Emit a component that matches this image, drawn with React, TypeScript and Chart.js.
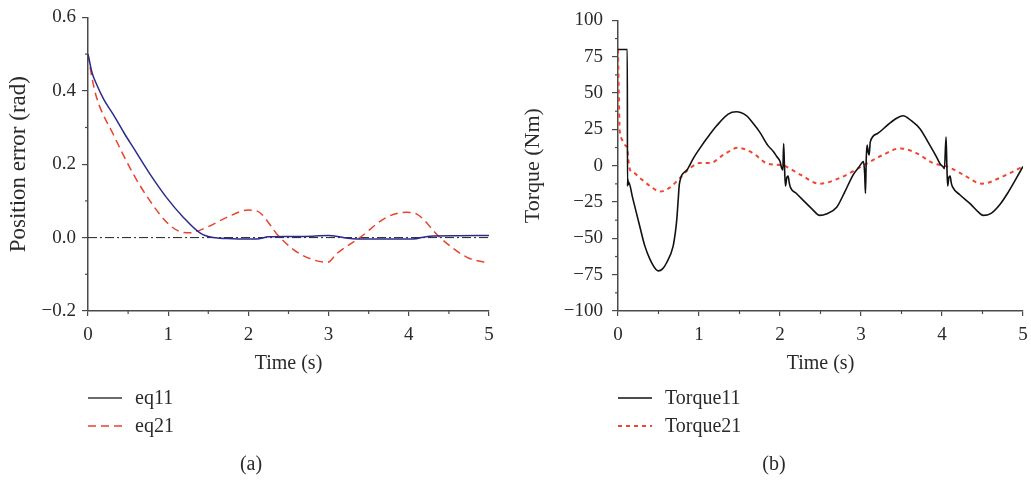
import React, { useEffect, useRef } from 'react';
import { Chart, registerables } from 'chart.js';

Chart.register(...registerables);

const SERIF = '"Liberation Serif", "Times New Roman", serif';
const TEXT = '#2a2a2a';
const AXIS = '#4a4a4a';

// ---------- Panel (a): position error ----------
const timeTicks = [0, 1, 2, 3, 4, 5];
const eq11T = [0, 0.05, 0.108, 0.2, 0.316, 0.45, 0.565, 0.773, 0.98, 1.19, 1.4, 1.56, 1.8, 2.0, 2.1, 2.25, 2.5, 2.8, 3.0, 3.05, 3.3, 3.6, 4.05, 4.26, 4.6, 5.0];
const eq11V = [0.5, 0.45, 0.417, 0.375, 0.335, 0.285, 0.245, 0.173, 0.109, 0.055, 0.012, 0.0, -0.003, -0.004, -0.004, 0.002, 0.003, 0.004, 0.006, 0.005, -0.003, -0.004, -0.004, 0.004, 0.005, 0.006];
const eq21T = [0, 0.05, 0.108, 0.316, 0.565, 0.773, 0.98, 1.15, 1.27, 1.48, 1.73, 2.0, 2.1, 2.39, 2.64, 2.99, 3.1, 3.39, 3.72, 3.97, 4.1, 4.39, 4.72, 5.0];
const eq21V = [0.5, 0.435, 0.381, 0.281, 0.173, 0.1, 0.042, 0.016, 0.013, 0.028, 0.055, 0.075, 0.073, 0.001, -0.044, -0.067, -0.044, 0.0, 0.055, 0.069, 0.064, 0.0, -0.053, -0.07];
const zeroT = [0, 5];
const zeroV = [0, 0];

// ---------- Panel (b): torque ----------
const tq11T = [0, 0.115, 0.117, 0.122, 0.127, 0.13, 0.18, 0.27, 0.33, 0.395, 0.45, 0.5, 0.55, 0.6, 0.68, 0.71, 0.725, 0.745, 0.757, 0.85, 0.93, 1.01, 1.1, 1.22, 1.36, 1.46, 1.585, 1.67, 1.75, 1.85, 1.92, 1.96, 2.0, 2.02, 2.035, 2.045, 2.055, 2.067, 2.085, 2.1, 2.115, 2.13, 2.2, 2.29, 2.4, 2.49, 2.58, 2.7, 2.8, 2.905, 2.96, 3.01, 3.03, 3.045, 3.055, 3.065, 3.075, 3.09, 3.1, 3.115, 3.2, 3.32, 3.42, 3.52, 3.62, 3.73, 3.83, 3.93, 3.98, 4.01, 4.03, 4.05, 4.06, 4.07, 4.085, 4.1, 4.115, 4.13, 4.22, 4.35, 4.45, 4.51, 4.6, 4.72, 4.82, 4.92, 5.0];
const tq11V = [80, 80, -14, -9, -13, -11, -22, -42, -55, -64.5, -70, -72.4, -71, -66.8, -55.5, -45, -37.5, -22, -12.8, -3, 5.1, 11.9, 19, 27.6, 35.5, 37.1, 34.4, 29, 23.1, 14, 9.6, 6.3, 3, -1.6, -3, 15.2, 0, -14, -8, -7.2, -12, -15.1, -19, -24, -30, -34.2, -33, -28.6, -18, -6.1, -2, 1.8, 2.9, -5, -19.1, 5, 14.2, 9, 7.4, 16.4, 22, 27.6, 32, 34.4, 31, 25.3, 16, 6.3, 1, -0.5, -2, 19.8, 0, -14, -8, -7.2, -12, -14.6, -20, -26.3, -32, -34.2, -33, -26.3, -18, -8.4, -0.5];
const tq21T = [0, 0.01, 0.02, 0.04, 0.065, 0.09, 0.115, 0.13, 0.148, 0.2, 0.27, 0.395, 0.52, 0.64, 0.765, 0.89, 1.01, 1.136, 1.3, 1.48, 1.67, 1.83, 2.0, 2.04, 2.25, 2.49, 2.74, 3.03, 3.27, 3.48, 3.69, 3.89, 4.06, 4.26, 4.49, 4.76, 5.0];
const tq21V = [80, 50, 25, 19, 16.4, 14, 11.9, 3, -2.7, -5, -8.4, -14, -17.8, -15.1, -8.4, -1.6, 1.8, 1.8, 7.4, 12.3, 8.5, 1.8, 0.5, 0.2, -6.1, -12.4, -8.4, 0.2, 7.4, 11.9, 8.5, 1.8, -0.5, -6.1, -12.4, -7.2, -0.5];

const posTicks = [-0.2, 0, 0.2, 0.4, 0.6];
const torqueTicks = [-100, -75, -50, -25, 0, 25, 50, 75, 100];

const pts = (t: number[], v: number[]) => t.map((x, i) => ({ x, y: v[i] }));
const minus = (s: string) => s.replace('-', '\u2212');

const minorTicks = {
  id: 'minorTicks',
  afterDraw(chart: any) {
    const ctx = chart.ctx;
    ctx.save();
    ctx.strokeStyle = AXIS;
    ctx.lineWidth = 1.2;
    ['x', 'y'].forEach((id) => {
      const s = chart.scales[id];
      const vals = s.ticks.map((k: any) => k.value);
      for (let i = 0; i < vals.length - 1; i++) {
        const p = s.getPixelForValue((vals[i] + vals[i + 1]) / 2);
        ctx.beginPath();
        if (id === 'x') {
          ctx.moveTo(p, s.top);
          ctx.lineTo(p, s.top + 3);
        } else {
          ctx.moveTo(s.right, p);
          ctx.lineTo(s.right - 3, p);
        }
        ctx.stroke();
      }
    });
    ctx.restore();
  },
};

const panelLegend = {
  id: 'panelLegend',
  afterDraw(chart: any, _a: any, opts: any) {
    const { ctx, chartArea } = chart;
    const items = chart.data.datasets.filter((d: any) => d.label);
    items.forEach((d: any, i: number) => {
      const y = opts.rowY[i];
      ctx.save();
      ctx.strokeStyle = d.legendColor || d.borderColor;
      ctx.lineWidth = d.borderWidth;
      ctx.setLineDash(d.borderDash || []);
      ctx.beginPath();
      ctx.moveTo(chartArea.left, y);
      ctx.lineTo(chartArea.left + 34, y);
      ctx.stroke();
      ctx.setLineDash([]);
      ctx.fillStyle = TEXT;
      ctx.font = `20px ${SERIF}`;
      ctx.textBaseline = 'middle';
      ctx.textAlign = 'left';
      ctx.fillText(d.label, chartArea.left + 47, y + 1);
      ctx.restore();
    });
    ctx.save();
    ctx.fillStyle = TEXT;
    ctx.font = `20px ${SERIF}`;
    ctx.textBaseline = 'middle';
    ctx.textAlign = 'center';
    ctx.fillText(opts.caption, opts.captionX, opts.captionY);
    ctx.restore();
  },
};

function makeConfig(p: any): any {
  return {
    type: 'line',
    data: { datasets: p.datasets },
    plugins: [minorTicks, panelLegend],
    options: {
      responsive: false,
      animation: false,
      events: [],
      layout: { padding: { top: 16, right: p.padRight, bottom: 107, left: 0 } },
      elements: { point: { radius: 0 } },
      plugins: {
        legend: { display: false },
        tooltip: { enabled: false },
        panelLegend: { rowY: [398, 426], caption: p.caption, captionX: p.captionX, captionY: 465 },
      },
      scales: {
        x: {
          type: 'linear',
          min: 0,
          max: 5,
          afterFit: (s: any) => { s.height = 65; s.paddingRight = 0; s.paddingLeft = 0; },
          afterBuildTicks: (s: any) => { s.ticks = timeTicks.map((v) => ({ value: v })); },
          ticks: { color: TEXT, font: { family: SERIF, size: 19 }, padding: 8, maxRotation: 0 },
          grid: { drawOnChartArea: false, drawTicks: true, tickLength: 5, color: AXIS, lineWidth: 1.2 },
          border: { display: true, color: AXIS, width: 1.5 },
          title: { display: true, text: 'Time (s)', color: TEXT, font: { family: SERIF, size: 20 }, padding: { top: 0, bottom: 0 } },
        },
        y: {
          type: 'linear',
          min: p.yMin,
          max: p.yMax,
          afterFit: (s: any) => { s.width = p.yWidth; },
          afterBuildTicks: (s: any) => { s.ticks = p.yTicks.map((v: number) => ({ value: v })); },
          ticks: { color: TEXT, font: { family: SERIF, size: 19 }, padding: p.yPad, callback: p.yFmt },
          grid: { drawOnChartArea: false, drawTicks: true, tickLength: 6, color: AXIS, lineWidth: 1.2 },
          border: { display: true, color: AXIS, width: 1.5 },
          title: { display: true, text: p.yTitle, color: TEXT, font: { family: SERIF, size: p.yTitleSize }, padding: { top: p.yTitlePad, bottom: 0 } },
        },
      },
    },
  };
}

const panelA = {
  datasets: [
    { label: 'eq11', order: 0, data: pts(eq11T, eq11V), borderColor: '#2b2b8c', legendColor: '#3a3a3a', borderWidth: 1.5, cubicInterpolationMode: 'monotone' },
    { label: 'eq21', order: 1, data: pts(eq21T, eq21V), borderColor: '#e8432e', borderWidth: 1.5, borderDash: [8, 5], cubicInterpolationMode: 'monotone' },
    { label: '', order: 2, data: pts(zeroT, zeroV), borderColor: '#222', borderWidth: 1, borderDash: [9, 3, 2, 3], tension: 0 },
  ],
  padRight: 26,
  yMin: -0.2,
  yMax: 0.6,
  yTicks: posTicks,
  yWidth: 88,
  yPad: 6,
  yFmt: (v: number) => minus((Math.abs(v) < 1e-9 ? 0 : v).toFixed(1)),
  yTitle: 'Position error (rad)',
  yTitleSize: 23,
  yTitlePad: 5,
  caption: '(a)',
  captionX: 251,
};

const panelB = {
  datasets: [
    { label: 'Torque11', order: 0, data: pts(tq11T, tq11V), borderColor: '#111', borderWidth: 1.6, cubicInterpolationMode: 'monotone' },
    { label: 'Torque21', order: 1, data: pts(tq21T, tq21V), borderColor: '#f0462f', borderWidth: 2, borderDash: [4, 4], cubicInterpolationMode: 'monotone' },
  ],
  padRight: 8,
  yMin: -100,
  yMax: 100,
  yTicks: torqueTicks,
  yWidth: 103,
  yPad: 9,
  yFmt: (v: number) => minus(String(v)),
  yTitle: 'Torque (Nm)',
  yTitleSize: 22,
  yTitlePad: 5,
  caption: '(b)',
  captionX: 259,
};

function Panel({ cfg, width }: { cfg: any; width: number }) {
  const ref = useRef<HTMLCanvasElement | null>(null);
  useEffect(() => {
    if (!ref.current) return;
    const chart = new Chart(ref.current, makeConfig(cfg));
    return () => chart.destroy();
  }, [cfg]);
  return <canvas ref={ref} width={width} height={483} style={{ display: 'block', width, height: 483 }} />;
}

export default function App() {
  useEffect(() => {
    document.body.style.margin = '0';
  }, []);
  return (
    <div style={{ display: 'flex', width: 1031, height: 483, background: '#fff' }}>
      <Panel cfg={panelA} width={515} />
      <Panel cfg={panelB} width={516} />
    </div>
  );
}
